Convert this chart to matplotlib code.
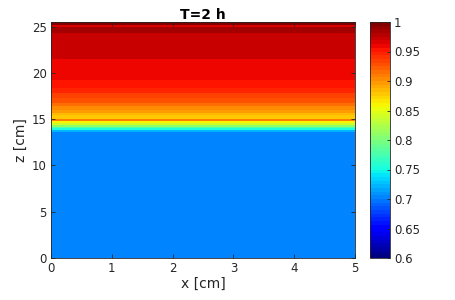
import numpy as np
import matplotlib
matplotlib.use("Agg")
import matplotlib.pyplot as plt

# band edges along z [cm] and the value read in each band
z_edges = [0.0, 13.6, 13.8, 14.0, 14.2, 14.4, 14.6, 14.85, 15.05, 15.4, 15.7,
           16.0, 16.4, 16.8, 17.3, 17.8, 18.4, 19.2, 21.5, 24.3, 25.0, 25.2, 25.5]
band_values = [0.705, 0.72, 0.75, 0.78, 0.81, 0.84, 0.86, 0.91, 0.875, 0.885,
               0.895, 0.905, 0.915, 0.925, 0.935, 0.945, 0.955, 0.962, 0.972,
               0.982, 0.965, 0.995]
x_edges = [0.0, 5.0]
cbar_ticks = [0.6, 0.65, 0.7, 0.75, 0.8, 0.85, 0.9, 0.95, 1.0]
cbar_labels = ["0.6", "0.65", "0.7", "0.75", "0.8", "0.85", "0.9", "0.95", "1"]

grey = (0.15, 0.15, 0.15)
plt.rcParams["font.family"] = "DejaVu Sans"

fig = plt.figure(figsize=(4.55, 3.0), dpi=100)
ax = fig.add_axes([51 / 455, 1 - 258 / 300, 304 / 455, 236 / 300])
cax = fig.add_axes([370 / 455, 1 - 258 / 300, 20 / 455, 236 / 300])

C = np.array(band_values)[:, None]
cmap = plt.get_cmap("jet", 64)
mesh = ax.pcolormesh(x_edges, z_edges, C, cmap=cmap, vmin=0.6, vmax=1.0,
                     shading="flat")

ax.set_xlim(0, 5)
ax.set_ylim(0, 25.5)
ax.set_xticks([0, 1, 2, 3, 4, 5])
ax.set_yticks([0, 5, 10, 15, 20, 25])
ax.tick_params(direction="in", length=3, width=0.6, labelsize=8.5,
               colors=grey, top=True, right=True, pad=3)
for s in ax.spines.values():
    s.set_color(grey)
    s.set_linewidth(0.6)
ax.set_xlabel("x [cm]", fontsize=10, color=grey, labelpad=1)
ax.set_ylabel("z [cm]", fontsize=10, color=grey, labelpad=3)
ax.set_title("T=2 h", fontsize=10, fontweight="bold", pad=2)

cb = fig.colorbar(mesh, cax=cax, ticks=cbar_ticks)
cb.ax.set_yticklabels(cbar_labels)
cb.ax.tick_params(direction="in", length=2, width=0.6, labelsize=8.5,
                  colors=grey, pad=3)
cb.outline.set_edgecolor(grey)
cb.outline.set_linewidth(0.6)

fig.savefig("out.png", dpi=100)
